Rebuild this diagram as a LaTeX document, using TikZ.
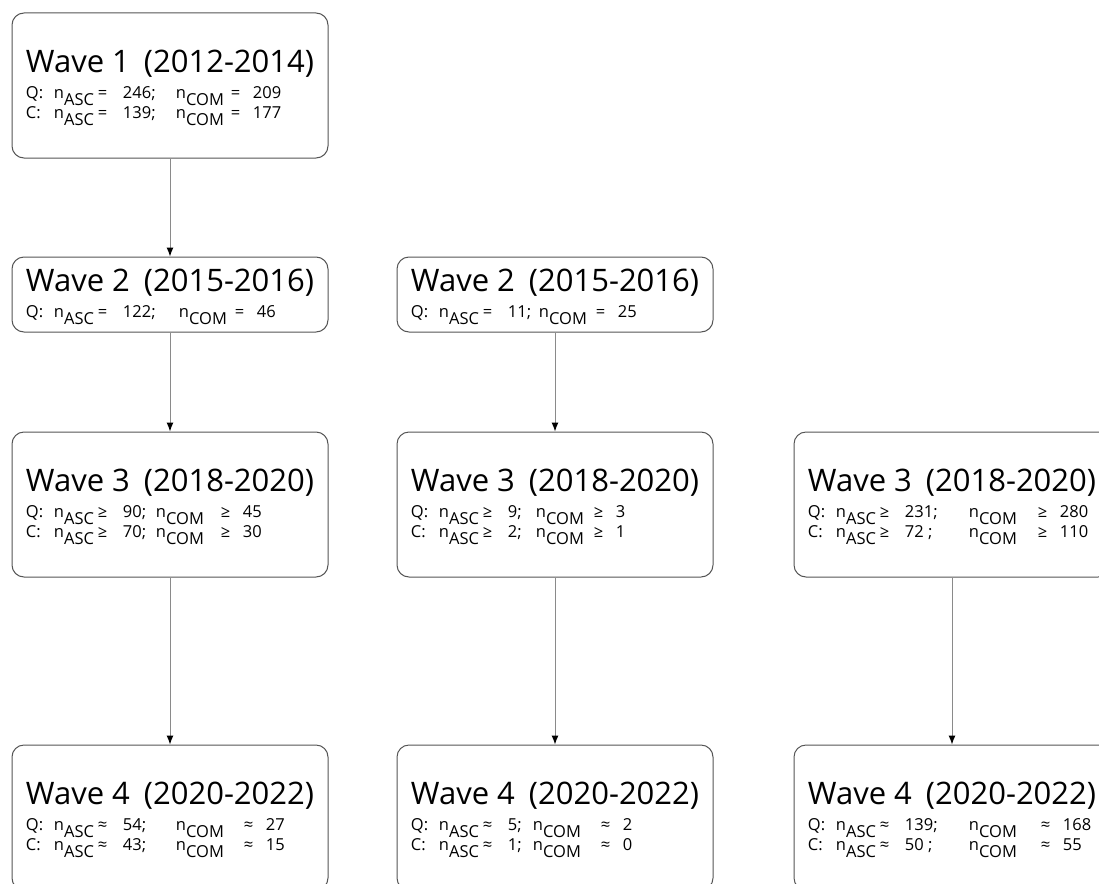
\documentclass[tikz,border=0pt]{standalone}
\usepackage{fontspec}
\setmainfont{Open Sans}
\usepackage{xcolor}
\usetikzlibrary{arrows.meta, positioning}

\definecolor{boxgray}{HTML}{555555}
\definecolor{linegray}{HTML}{8A8A8A}

\newcommand{\nsub}[1]{n\raisebox{-0.42em}{#1}}
\newcommand{\wavetitle}[2]{{\fontsize{31}{31}\selectfont\rule{0pt}{28pt}Wave #1\hspace{0.45em}(#2)}}
% prefix, relation, first value, its slot, n_COM slot, second value
\newcommand{\statrow}[6]{\makebox[28pt][l]{#1}\makebox[44pt][l]{\nsub{ASC}}\makebox[25pt][l]{#2}\makebox[#4][l]{#3}\makebox[#5][l]{\nsub{COM}}\makebox[22pt][l]{#2}#6}

\begin{document}
\begin{tikzpicture}[x=1pt,y=1pt,
    wavebox/.style={rectangle, rounded corners=12pt, draw=boxgray, line width=1pt,
        minimum width=316pt, align=left, font=\fontsize{16.5}{20}\selectfont},
    tall/.style={minimum height=145pt},
    short/.style={minimum height=75pt},
    flow/.style={-{Latex[length=9pt,width=7pt,color=black]}, draw=linegray, line width=1pt}]
    \clip (0,0) rectangle (1099,-883);

    \node[wavebox, tall] (w1a) at (170,-85.5) {\wavetitle{1}{2012-2014}\\[6pt]
        \statrow{Q:}{=}{246;}{53pt}{55pt}{209}\\
        \statrow{C:}{=}{139;}{53pt}{55pt}{177}};

    \node[wavebox, short, below=98pt of w1a] (w2a) {\wavetitle{2}{2015-2016}\\[6pt]
        \statrow{Q:}{=}{122;}{56pt}{56pt}{46}};
    \node[wavebox, short, right=68pt of w2a] (w2b) {\wavetitle{2}{2015-2016}\\[6pt]
        \statrow{Q:}{=}{11;}{31pt}{57pt}{25}};

    \node[wavebox, tall, below=99pt of w2a] (w3a) {\wavetitle{3}{2018-2020}\\[6pt]
        \statrow{Q:}{≥}{90;}{33pt}{65pt}{45}\\
        \statrow{C:}{≥}{70;}{33pt}{65pt}{30}};
    \node[wavebox, tall, below=99pt of w2b] (w3b) {\wavetitle{3}{2018-2020}\\[6pt]
        \statrow{Q:}{≥}{9;}{28pt}{58pt}{3}\\
        \statrow{C:}{≥}{2;}{28pt}{58pt}{1}};
    \node[wavebox, tall, right=80pt of w3b] (w3c) {\wavetitle{3}{2018-2020}\\[6pt]
        \statrow{Q:}{≥}{231;}{64pt}{69pt}{280}\\
        \statrow{C:}{≥}{72 ;}{64pt}{69pt}{110}};

    \node[wavebox, tall, below=167pt of w3a] (w4a) {\wavetitle{4}{2020-2022}\\[6pt]
        \statrow{Q:}{≈}{54;}{53pt}{68pt}{27}\\
        \statrow{C:}{≈}{43;}{53pt}{68pt}{15}};
    \node[wavebox, tall, below=167pt of w3b] (w4b) {\wavetitle{4}{2020-2022}\\[6pt]
        \statrow{Q:}{≈}{5;}{25pt}{68pt}{2}\\
        \statrow{C:}{≈}{1;}{25pt}{68pt}{0}};
    \node[wavebox, tall, below=167pt of w3c] (w4c) {\wavetitle{4}{2020-2022}\\[6pt]
        \statrow{Q:}{≈}{139;}{64pt}{72pt}{168}\\
        \statrow{C:}{≈}{50 ;}{64pt}{72pt}{55}};

    \draw[flow] (w1a) -- (w2a);
    \draw[flow] (w2a) -- (w3a);
    \draw[flow] (w3a) -- (w4a);
    \draw[flow] (w2b) -- (w3b);
    \draw[flow] (w3b) -- (w4b);
    \draw[flow] (w3c) -- (w4c);

\end{tikzpicture}
\end{document}
